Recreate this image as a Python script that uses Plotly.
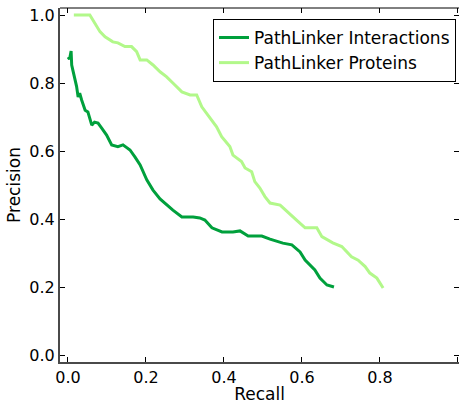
import plotly.graph_objects as go

# PathLinker Interactions (recall, precision)
inter_recall = [0.0, 0.004, 0.008, 0.0095, 0.012, 0.018, 0.022, 0.026, 0.030, 0.035, 0.040, 0.044,
                0.051, 0.061, 0.068, 0.077, 0.086, 0.099, 0.112, 0.128, 0.141, 0.159, 0.172,
                0.185, 0.202, 0.218, 0.236, 0.269, 0.292, 0.321, 0.338, 0.351, 0.369, 0.395,
                0.423, 0.441, 0.462, 0.497, 0.518, 0.551, 0.574, 0.595, 0.608, 0.633, 0.646,
                0.664, 0.682]
inter_precision = [0.876, 0.870, 0.894, 0.853, 0.840, 0.809, 0.790, 0.759, 0.770, 0.750, 0.735, 0.720,
                   0.715, 0.676, 0.685, 0.682, 0.668, 0.647, 0.618, 0.613, 0.618, 0.603, 0.582,
                   0.559, 0.515, 0.485, 0.459, 0.426, 0.406, 0.406, 0.403, 0.397, 0.374, 0.362,
                   0.362, 0.365, 0.350, 0.350, 0.341, 0.329, 0.324, 0.303, 0.279, 0.250, 0.226,
                   0.206, 0.200]

# PathLinker Proteins (recall, precision)
prot_recall = [0.015, 0.056, 0.082, 0.095, 0.115, 0.128, 0.146, 0.163, 0.176, 0.185, 0.202, 0.218,
               0.236, 0.253, 0.269, 0.292, 0.313, 0.330, 0.343, 0.359, 0.381, 0.394, 0.415,
               0.423, 0.445, 0.454, 0.471, 0.479, 0.492, 0.505, 0.518, 0.544, 0.564, 0.586,
               0.608, 0.638, 0.651, 0.679, 0.702, 0.727, 0.744, 0.762, 0.774, 0.792, 0.808]
prot_precision = [1.0, 1.0, 0.951, 0.936, 0.921, 0.918, 0.907, 0.907, 0.892, 0.868, 0.868, 0.853,
                  0.833, 0.818, 0.800, 0.774, 0.765, 0.765, 0.730, 0.706, 0.671, 0.642, 0.613,
                  0.588, 0.569, 0.550, 0.539, 0.510, 0.491, 0.466, 0.447, 0.441, 0.421, 0.397,
                  0.374, 0.374, 0.348, 0.330, 0.319, 0.289, 0.279, 0.260, 0.241, 0.226, 0.197]

x_ticks = [0.0, 0.2, 0.4, 0.6, 0.8, 1.0]
x_labels = ["0.0", "0.2", "0.4", "0.6", "0.8", ""]
y_ticks = [0.0, 0.2, 0.4, 0.6, 0.8, 1.0]
y_labels = ["0.0", "0.2", "0.4", "0.6", "0.8", "1.0"]

x_range = [-0.0205, 1.0026]
y_range = [-0.0206, 1.0206]
font = "DejaVu Sans"

fig = go.Figure()
fig.add_trace(go.Scatter(x=inter_recall, y=inter_precision, mode="lines",
                         name="PathLinker Interactions",
                         line=dict(color="#00a03c", width=3)))
fig.add_trace(go.Scatter(x=prot_recall, y=prot_precision, mode="lines",
                         name="PathLinker Proteins",
                         line=dict(color="#b2f88a", width=3)))
# invisible trace so the mirrored tick axes exist
fig.add_trace(go.Scatter(x=[0], y=[0], xaxis="x2", yaxis="y2", mode="markers",
                         marker=dict(opacity=0), showlegend=False, hoverinfo="skip"))

fig.update_layout(
    width=464, height=404,
    margin=dict(l=60, r=5, t=8, b=42, autoexpand=False),
    paper_bgcolor="white", plot_bgcolor="white",
    font=dict(family=font, size=16, color="black"),
    xaxis=dict(range=x_range, tickvals=x_ticks, ticktext=x_labels,
               ticks="inside", ticklen=5, tickwidth=1, tickcolor="black",
               showline=True, linewidth=2, linecolor="#4a4a4a",
               showgrid=False, zeroline=False, automargin=False,
               title=dict(text="Recall", font=dict(size=17), standoff=2)),
    yaxis=dict(range=y_range, tickvals=y_ticks, ticktext=y_labels,
               ticks="inside", ticklen=5, tickwidth=1, tickcolor="black",
               showline=True, linewidth=2, linecolor="#4a4a4a",
               showgrid=False, zeroline=False, automargin=False,
               title=dict(text="Precision", font=dict(size=17), standoff=4)),
    xaxis2=dict(overlaying="x", side="top", range=x_range, tickvals=x_ticks,
                showticklabels=False, ticks="inside", ticklen=5, tickwidth=1,
                tickcolor="black", showgrid=False, zeroline=False, showline=False),
    yaxis2=dict(overlaying="y", side="right", range=y_range, tickvals=y_ticks,
                showticklabels=False, ticks="inside", ticklen=5, tickwidth=1,
                tickcolor="black", showgrid=False, zeroline=False, showline=False),
    legend=dict(x=0.9925, y=0.969, xanchor="right", yanchor="top",
                bordercolor="black", borderwidth=1, bgcolor="white",
                font=dict(size=17), tracegroupgap=0),
    showlegend=True,
)
fig.add_shape(type="line", xref="paper", yref="paper", x0=0, x1=1, y0=1, y1=1,
              line=dict(color="black", width=1))

# drop the page's default body margin so the figure sits at the window's corner
fig.write_html("out.html", config={"displayModeBar": False},
               post_script="document.body.style.margin='0';")
